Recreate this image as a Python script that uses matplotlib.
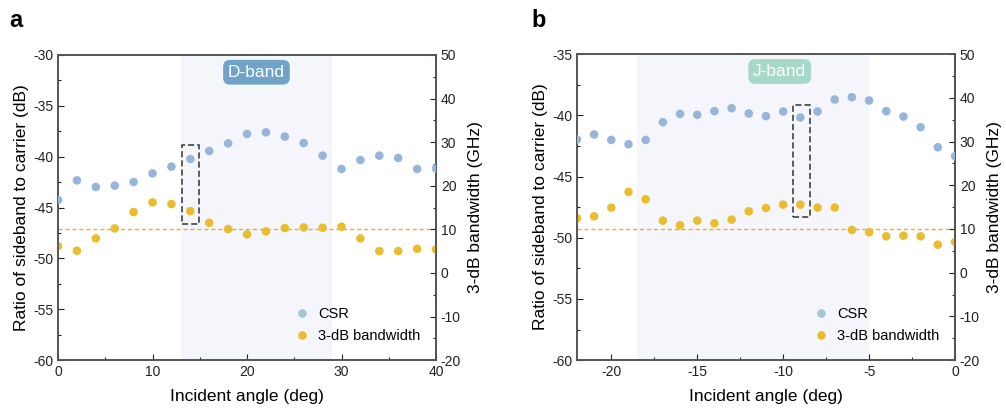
import numpy as np
import matplotlib
matplotlib.use("Agg")
import matplotlib.pyplot as plt
from matplotlib.lines import Line2D
from matplotlib.patches import Rectangle
from matplotlib.ticker import MultipleLocator

plt.rcParams['font.family'] = ['Liberation Sans', 'DejaVu Sans']
plt.rcParams['axes.unicode_minus'] = False

# ---- panel a: D-band ----
angle_a = [0, 2, 4, 6, 8, 10, 12, 14, 16, 18, 20, 22, 24, 26, 28, 30, 32, 34, 36, 38, 40]
csr_a = [-44.26, -42.33, -42.98, -42.85, -42.49, -41.64, -40.98, -40.23, -39.44, -38.69,
         -37.77, -37.61, -38.03, -38.66, -39.90, -41.21, -40.33, -39.90, -40.13, -41.21, -41.15]
bw_a = [6.16, 5.09, 7.92, 10.21, 13.96, 16.18, 15.80, 14.19, 11.51, 10.06,
        8.84, 9.53, 10.29, 10.44, 10.37, 10.60, 7.92, 5.01, 5.01, 5.55, 5.39]

# ---- panel b: J-band ----
angle_b = list(range(-22, 1))
csr_b = [-41.98, -41.57, -42.01, -42.36, -42.01, -40.56, -39.88, -39.96, -39.66, -39.42,
         -39.85, -40.07, -39.69, -40.18, -39.69, -38.71, -38.52, -38.79, -39.66, -40.10,
         -40.97, -42.61, -43.34]
bw_b = [12.44, 12.90, 14.89, 18.47, 16.79, 11.91, 10.84, 11.91, 11.30, 12.14,
        14.05, 14.81, 15.57, 15.57, 14.89, 14.89, 9.77, 9.24, 8.32, 8.47,
        8.32, 6.41, 7.02]

BLUE = "#97b5d9"
YELLOW = "#e9bd2e"
LEG_BLUE = "#a3c8d3"
SHADE = "#f4f6fb"

panels = [
    dict(ax_rect=[0.0577, 0.128, 0.3757, 0.739], x=angle_a, csr=csr_a, bw=bw_a,
         xlim=(0, 40), ylim=(-60, -30), xmaj=10, xmin=5, shade=(13, 29),
         box=(13.1, -46.6, 1.85, 7.75), band="D-band", band_xy=(21, -31.7),
         band_col="#6fa4c8", letter="a", letter_x=0.009, leg_x=0.627),
    dict(ax_rect=[0.5735, 0.128, 0.3758, 0.741], x=angle_b, csr=csr_b, bw=bw_b,
         xlim=(-22, 0), ylim=(-60, -35), xmaj=5, xmin=2.5, shade=(-18.5, -5),
         box=(-9.45, -48.28, 1.02, 9.16), band="J-band", band_xy=(-10.2, -36.42),
         band_col="#a7d8c8", letter="b", letter_x=0.528, leg_x=0.627),
]

fig = plt.figure(figsize=(10.06, 4.13), dpi=100)

for p in panels:
    ax = fig.add_axes(p["ax_rect"])
    ax2 = ax.twinx()
    ax.set_zorder(ax2.get_zorder() + 1)
    ax.patch.set_visible(False)

    # shade and bandwidth series live on the lower (twin) axes
    ax2.axvspan(*p["shade"], color=SHADE, zorder=0, lw=0)
    ax2.axhline(10, color="#f0a93a", lw=1.0, ls=(0, (3, 2)), zorder=1)
    ax2.scatter(p["x"], p["bw"], s=38, color=YELLOW, edgecolors="none", zorder=3)
    ax.scatter(p["x"], p["csr"], s=38, color=BLUE, edgecolors="none", zorder=3)

    bx, by, bw_, bh = p["box"]
    ax.add_patch(Rectangle((bx, by), bw_, bh, fill=False, ec="#333333",
                           lw=1.1, ls=(0, (4, 2)), zorder=4))

    ax.text(*p["band_xy"], p["band"], ha="center", va="center", color="white",
            fontsize=12.5, zorder=5,
            bbox=dict(boxstyle="round,pad=0.28,rounding_size=0.4",
                      fc=p["band_col"], ec="none"))

    ax.set_xlim(*p["xlim"])
    ax.set_ylim(*p["ylim"])
    ax2.set_ylim(-20, 50)
    ax.xaxis.set_major_locator(MultipleLocator(p["xmaj"]))
    ax.xaxis.set_minor_locator(MultipleLocator(p["xmin"]))
    ax.yaxis.set_major_locator(MultipleLocator(5))
    ax.yaxis.set_minor_locator(MultipleLocator(2.5))
    ax2.yaxis.set_major_locator(MultipleLocator(10))
    ax2.yaxis.set_minor_locator(MultipleLocator(5))

    for a in (ax, ax2):
        a.tick_params(which="both", direction="in", labelsize=10, colors="#222222",
                      top=False)
        a.tick_params(which="major", length=4, width=0.8)
        a.tick_params(which="minor", length=2.5, width=0.8)
        for s in a.spines.values():
            s.set_color("#555555")
            s.set_linewidth(1.2)
    ax.tick_params(axis="y", right=False, which="both")
    ax2.spines["right"].set_color("#333333")

    ax.set_xlabel("Incident angle (deg)", fontsize=12.5, labelpad=7)
    ax.set_ylabel("Ratio of sideband to carrier (dB)", fontsize=12.5, labelpad=3)
    ax2.set_ylabel("3-dB bandwidth (GHz)", fontsize=12.5, labelpad=5)

    handles = [Line2D([], [], ls="none", marker="o", ms=6.2, mfc=LEG_BLUE, mec="none"),
               Line2D([], [], ls="none", marker="o", ms=6.2, mfc=YELLOW, mec="none")]
    ax.legend(handles, ["CSR", "3-dB bandwidth"], loc="lower left",
              bbox_to_anchor=(p["leg_x"], 0.055), frameon=False, fontsize=10.5,
              handlelength=1.0, handletextpad=0.6, labelspacing=0.55,
              borderaxespad=0, borderpad=0)

    fig.text(p["letter_x"], 0.95, p["letter"], fontsize=17, fontweight="bold",
             va="center")

fig.savefig("out.png", dpi=100)
